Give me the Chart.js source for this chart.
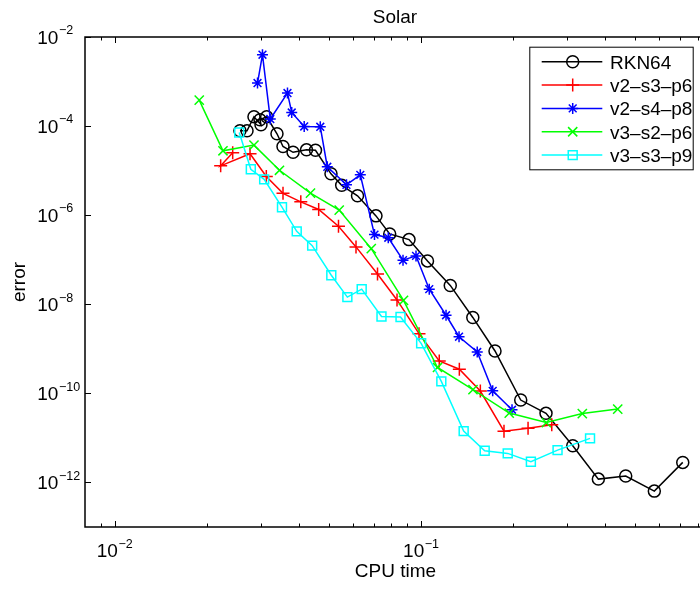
<!DOCTYPE html>
<html>
<head>
<meta charset="utf-8">
<title>Solar</title>
<script src="https://cdn.jsdelivr.net/npm/chart.js@4.4.1/dist/chart.umd.min.js"></script>
<style>
    html, body { margin: 0; padding: 0; background: #fff; overflow: hidden; }
</style>
</head>
<body>
<canvas id="solarChart" width="700" height="590"></canvas>
<script>
// series labels, as shown in the legend
var seriesNames = ['RKN64', 'v2\u2013s3\u2013p6', 'v2\u2013s4\u2013p8', 'v3\u2013s2\u2013p6', 'v3\u2013s3\u2013p9'];

// CPU time / error pairs
var rknTime = [0.02564, 0.02704, 0.02849, 0.03003, 0.02981, 0.03135, 0.03387, 0.03544, 0.03822, 0.04229, 0.04524, 0.05083, 0.05509, 0.06205, 0.07129, 0.07903, 0.09138, 0.1050, 0.1246, 0.1476, 0.1744, 0.2116, 0.2559, 0.3129, 0.3793, 0.4659, 0.5777, 0.7153];
var rknErr = [7.84e-5, 7.84e-5, 1.62e-4, 1.07e-4, 1.39e-4, 1.62e-4, 6.72e-5, 3.48e-5, 2.58e-5, 2.93e-5, 2.86e-5, 8.48e-6, 4.68e-6, 2.72e-6, 9.65e-7, 3.80e-7, 2.83e-7, 9.41e-8, 2.65e-8, 5.06e-9, 8.94e-10, 7.08e-11, 3.56e-11, 6.66e-12, 1.19e-12, 1.39e-12, 6.39e-13, 2.82e-12];

var s3p6Time = [0.02428, 0.02218, 0.02766, 0.03126, 0.03544, 0.04051, 0.04634, 0.05378, 0.06135, 0.07211, 0.08350, 0.09851, 0.1147, 0.1334, 0.1562, 0.1866, 0.2236, 0.2672];
var s3p6Err = [2.51e-5, 1.28e-5, 2.39e-5, 7.37e-6, 3.09e-6, 1.99e-6, 1.34e-6, 5.67e-7, 1.94e-7, 4.80e-8, 1.25e-8, 2.19e-9, 5.33e-10, 3.48e-10, 1.13e-10, 1.42e-11, 1.64e-11, 1.97e-11];

var s4p8Time = [0.02926, 0.03037, 0.03221, 0.03665, 0.03784, 0.04156, 0.04690, 0.04944, 0.05711, 0.06336, 0.07049, 0.07819, 0.08735, 0.09632, 0.1064, 0.1207, 0.1331, 0.1526, 0.1714, 0.1982];
var s4p8Err = [9.26e-4, 4.00e-3, 1.44e-4, 5.52e-4, 2.02e-4, 9.80e-5, 9.65e-5, 1.22e-5, 4.80e-6, 8.05e-6, 3.67e-7, 3.12e-7, 9.75e-8, 1.22e-7, 2.18e-8, 5.67e-9, 1.87e-9, 8.49e-10, 1.14e-10, 4.29e-11];

var s2p6Time = [0.01888, 0.02257, 0.02849, 0.03451, 0.04357, 0.05407, 0.06881, 0.08768, 0.1132, 0.1478, 0.1941, 0.2565, 0.3362, 0.4387];
var s2p6Err = [3.84e-4, 2.79e-5, 3.74e-5, 1.02e-5, 3.12e-6, 1.30e-6, 1.77e-7, 1.22e-8, 3.81e-10, 1.21e-10, 3.61e-11, 2.21e-11, 3.52e-11, 4.44e-11];

var s3p9Time = [0.02550, 0.02782, 0.03076, 0.03517, 0.03929, 0.04413, 0.05095, 0.05749, 0.06403, 0.07430, 0.08572, 0.1001, 0.1165, 0.1378, 0.1614, 0.1919, 0.2284, 0.2791, 0.3563];
var s3p9Err = [7.19e-5, 1.07e-5, 6.38e-6, 1.51e-6, 4.33e-7, 2.07e-7, 4.49e-8, 1.45e-8, 2.19e-8, 5.33e-9, 5.19e-9, 1.33e-9, 1.86e-10, 1.42e-11, 5.14e-12, 4.49e-12, 2.91e-12, 5.33e-12, 9.76e-12];

// axis ticks
var xMajorTicks = [0.01, 0.1];
var xMajorExp = ['\u22122', '\u22121'];
var xMinorTicks = [0.009, 0.02, 0.03, 0.04, 0.05, 0.06, 0.07, 0.08, 0.09, 0.2, 0.3, 0.4, 0.5, 0.6, 0.7, 0.8];
var yMajorTicks = [1e-2, 1e-4, 1e-6, 1e-8, 1e-10, 1e-12];
var yMajorExp = ['\u22122', '\u22124', '\u22126', '\u22128', '\u221210', '\u221212'];

var FONT = '"Liberation Sans", Arial, Helvetica, sans-serif';

function pairs(xs, ys) {
    return xs.map(function (x, i) { return { x: x, y: ys[i] }; });
}

function series(label, xs, ys, color, style, radius, order) {
    return {
        label: label,
        data: pairs(xs, ys),
        showLine: true,
        borderColor: color,
        borderWidth: 1.5,
        pointStyle: style,
        pointRadius: radius,
        pointHoverRadius: radius,
        pointBorderColor: color,
        pointBackgroundColor: 'rgba(0,0,0,0)',
        pointBorderWidth: 1.5,
        tension: 0,
        fill: false,
        order: order
    };
}

// draws "10" with a superscript exponent, starting at x
function drawPower(ctx, x, baseY, exp) {
    ctx.font = '19px ' + FONT;
    ctx.fillText('10', x, baseY);
    var w = ctx.measureText('10').width;
    ctx.font = '12.5px ' + FONT;
    ctx.fillText(exp, x + w + 0.5, baseY - 9.5);
}

function powerWidth(ctx, exp) {
    ctx.font = '19px ' + FONT;
    var w = ctx.measureText('10').width;
    ctx.font = '12.5px ' + FONT;
    return w + 0.5 + ctx.measureText(exp).width;
}

var matlabAxes = {
    id: 'matlabAxes',
    afterDraw: function (chart) {
        var ctx = chart.ctx;
        var a = chart.chartArea;
        var xs = chart.scales.x;
        var ys = chart.scales.y;

        ctx.save();
        ctx.strokeStyle = '#000';
        ctx.fillStyle = '#000';

        // box (right side falls just outside the picture)
        ctx.lineWidth = 1.5;
        ctx.strokeRect(a.left, a.top, a.right - a.left + 4, a.bottom - a.top);

        // inward tick marks
        ctx.lineWidth = 1;
        ctx.beginPath();
        xMajorTicks.forEach(function (v) {
            var px = Math.round(xs.getPixelForValue(v)) + 0.5;
            ctx.moveTo(px, a.bottom); ctx.lineTo(px, a.bottom - 6);
            ctx.moveTo(px, a.top); ctx.lineTo(px, a.top + 6);
        });
        xMinorTicks.forEach(function (v) {
            var px = Math.round(xs.getPixelForValue(v)) + 0.5;
            ctx.moveTo(px, a.bottom); ctx.lineTo(px, a.bottom - 3.5);
            ctx.moveTo(px, a.top); ctx.lineTo(px, a.top + 3.5);
        });
        yMajorTicks.forEach(function (v) {
            var py = Math.round(ys.getPixelForValue(v)) + 0.5;
            ctx.moveTo(a.left, py); ctx.lineTo(a.left + 6, py);
        });
        ctx.stroke();

        // tick labels
        ctx.textAlign = 'left';
        ctx.textBaseline = 'alphabetic';
        xMajorTicks.forEach(function (v, i) {
            var px = xs.getPixelForValue(v);
            var w = powerWidth(ctx, xMajorExp[i]);
            drawPower(ctx, px - w / 2, a.bottom + 30, xMajorExp[i]);
        });
        yMajorTicks.forEach(function (v, i) {
            var py = ys.getPixelForValue(v);
            drawPower(ctx, 37.3, py + 6.8, yMajorExp[i]);
        });

        // title and axis titles
        ctx.font = '19px ' + FONT;
        ctx.textAlign = 'center';
        ctx.fillText('Solar', 395, 22.7);
        ctx.fillText('CPU time', 395.5, 577);
        ctx.save();
        ctx.translate(25, (a.top + a.bottom) / 2);
        ctx.rotate(-Math.PI / 2);
        ctx.fillText('error', 0, 0);
        ctx.restore();

        // legend box
        var lx = 529.3, ly = 46.7, lw = 163.4, lh = 122.6;
        ctx.fillStyle = '#fff';
        ctx.fillRect(lx, ly, lw, lh);
        ctx.lineWidth = 1;
        ctx.strokeStyle = '#000';
        ctx.strokeRect(lx + 0.5, ly + 0.5, lw, lh);

        ctx.textAlign = 'left';
        ctx.font = '19px ' + FONT;
        chart.data.datasets.forEach(function (ds, i) {
            var y = 61.7 + i * 23.35;
            ctx.strokeStyle = ds.borderColor;
            ctx.lineWidth = 1.5;
            ctx.beginPath();
            ctx.moveTo(541.7, y);
            ctx.lineTo(602.3, y);
            ctx.stroke();
            ctx.fillStyle = 'rgba(0,0,0,0)';
            Chart.helpers.drawPoint(ctx, {
                pointStyle: ds.pointStyle,
                radius: ds.pointRadius,
                borderWidth: 1.5,
                rotation: 0
            }, 572.7, y);
            ctx.fillStyle = '#000';
            ctx.fillText(ds.label, 610, y + 6.8);
        });

        ctx.restore();
    }
};

new Chart(document.getElementById('solarChart'), {
    type: 'scatter',
    data: {
        datasets: [
            series(seriesNames[0], rknTime, rknErr, '#000000', 'circle', 6, 5),
            series(seriesNames[1], s3p6Time, s3p6Err, '#ff0000', 'cross', 6.5, 4),
            series(seriesNames[2], s4p8Time, s4p8Err, '#0000ff', 'star', 5.5, 3),
            series(seriesNames[3], s2p6Time, s2p6Err, '#00ff00', 'crossRot', 6.5, 2),
            series(seriesNames[4], s3p9Time, s3p9Err, '#00ffff', 'rect', 6.3, 1)
        ]
    },
    options: {
        responsive: false,
        animation: false,
        devicePixelRatio: 1,
        layout: { autoPadding: false, padding: { left: 85, top: 37, right: 0, bottom: 63 } },
        plugins: {
            legend: { display: false },
            tooltip: { enabled: false },
            title: { display: false }
        },
        scales: {
            x: { type: 'logarithmic', min: 0.008, max: 0.8143, display: false },
            y: { type: 'logarithmic', min: 1e-13, max: 1e-2, display: false }
        }
    },
    plugins: [matlabAxes]
});
</script>
</body>
</html>
